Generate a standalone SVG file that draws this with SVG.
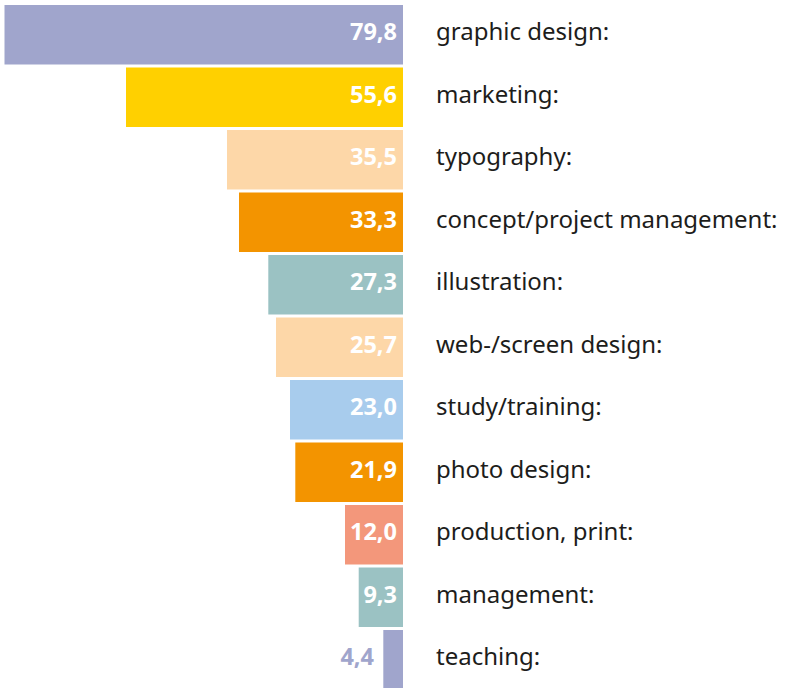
<svg xmlns="http://www.w3.org/2000/svg" width="787" height="688" viewBox="0 0 787 688">
<style>
.lbl{font-family:"Noto Sans","Open Sans",sans-serif;font-size:24px;fill:#1d1d1b}
.val{font-family:"Noto Sans","Open Sans",sans-serif;font-size:23.5px;font-weight:bold;fill:#ffffff;text-anchor:end}
</style>
<rect width="787" height="688" fill="#ffffff"/>
<g id="bar-graphic-design"><rect x="4.5" y="5" width="398.5" height="59.5" fill="#a0a5cc"/><text class="val" x="397" y="40">79,8</text><text class="lbl" x="436" y="40">graphic design:</text></g>
<g id="bar-marketing"><rect x="126" y="67.5" width="277" height="59.5" fill="#ffd000"/><text class="val" x="397" y="102.5">55,6</text><text class="lbl" x="436" y="102.5">marketing:</text></g>
<g id="bar-typography"><rect x="227" y="130" width="176" height="59.5" fill="#fdd7a8"/><text class="val" x="397" y="165">35,5</text><text class="lbl" x="436" y="165">typography:</text></g>
<g id="bar-concept"><rect x="239" y="192.5" width="164" height="59.5" fill="#f39400"/><text class="val" x="397" y="227.5">33,3</text><text class="lbl" x="436" y="227.5">concept/project management:</text></g>
<g id="bar-illustration"><rect x="268.3" y="255" width="134.7" height="59.5" fill="#9bc2c3"/><text class="val" x="397" y="290">27,3</text><text class="lbl" x="436" y="290">illustration:</text></g>
<g id="bar-web"><rect x="276" y="317.5" width="127" height="59.5" fill="#fdd7a8"/><text class="val" x="397" y="352.5">25,7</text><text class="lbl" x="436" y="352.5">web-/screen design:</text></g>
<g id="bar-study"><rect x="290" y="380" width="113" height="59.5" fill="#a8cced"/><text class="val" x="397" y="415">23,0</text><text class="lbl" x="436" y="415">study/training:</text></g>
<g id="bar-photo"><rect x="295.3" y="442.5" width="107.7" height="59.5" fill="#f39400"/><text class="val" x="397" y="477.5">21,9</text><text class="lbl" x="436" y="477.5">photo design:</text></g>
<g id="bar-production"><rect x="345" y="505" width="58" height="59.5" fill="#f3977b"/><text class="val" x="397" y="540">12,0</text><text class="lbl" x="436" y="540">production, print:</text></g>
<g id="bar-management"><rect x="358.7" y="567.5" width="44.3" height="59.5" fill="#9bc2c3"/><text class="val" x="397" y="602.5">9,3</text><text class="lbl" x="436" y="602.5">management:</text></g>
<g id="bar-teaching"><rect x="383.3" y="630" width="19.7" height="58" fill="#a0a5cc"/><text class="val" x="374" y="665" style="fill:#a0a5cc">4,4</text><text class="lbl" x="436" y="665">teaching:</text></g>
<g id="connectors"/>
</svg>
